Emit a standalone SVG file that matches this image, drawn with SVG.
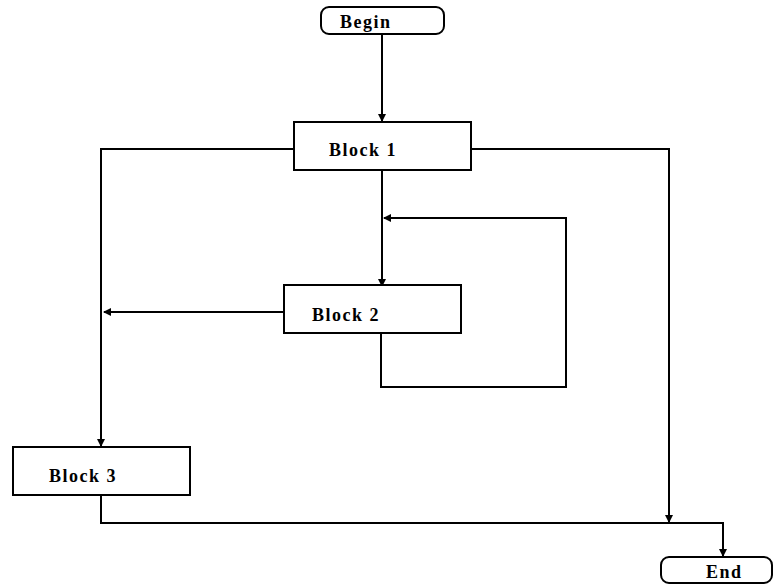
<svg xmlns="http://www.w3.org/2000/svg" width="779" height="586" viewBox="0 0 779 586">
<style>
.box{fill:#fff;stroke:#000;stroke-width:2}
.t{font-family:"Liberation Serif",serif;font-weight:bold;font-size:18px;letter-spacing:1.5px;fill:#000}
.c{fill:none;stroke:#000;stroke-width:2}
</style>
<defs>
<marker id="ah" markerWidth="8" markerHeight="8" refX="7" refY="4" orient="auto" markerUnits="userSpaceOnUse">
<path d="M0,0 L8,4 L0,8 Z" fill="#000"/>
</marker>
</defs>
<rect width="779" height="586" fill="#fff"/>
<g id="connectors">
<path class="c" d="M382,34 V121" marker-end="url(#ah)"/>
<path class="c" d="M382,170 V286" marker-end="url(#ah)"/>
<path class="c" d="M381,333 V387 H566 V218 H384" marker-end="url(#ah)"/>
<path class="c" d="M294,149 H101 V446" marker-end="url(#ah)"/>
<path class="c" d="M284,312 H104" marker-end="url(#ah)"/>
<path class="c" d="M471,149 H669 V522" marker-end="url(#ah)"/>
<path class="c" d="M101,495 V523 H723 V556" marker-end="url(#ah)"/>
</g>
<g id="begin">
<rect class="box" x="321" y="7" width="123" height="27" rx="8"/>
<text class="t" x="340" y="28">Begin</text>
</g>
<g id="block1">
<rect class="box" x="294" y="122" width="177" height="48"/>
<text class="t" x="329" y="156">Block 1</text>
</g>
<g id="block2">
<rect class="box" x="284" y="285" width="177" height="48"/>
<text class="t" x="312" y="321">Block 2</text>
</g>
<g id="block3">
<rect class="box" x="13" y="447" width="177" height="48"/>
<text class="t" x="49" y="482">Block 3</text>
</g>
<g id="end">
<rect class="box" x="661" y="557" width="111" height="26" rx="8"/>
<text class="t" x="706" y="578">End</text>
</g>
</svg>
